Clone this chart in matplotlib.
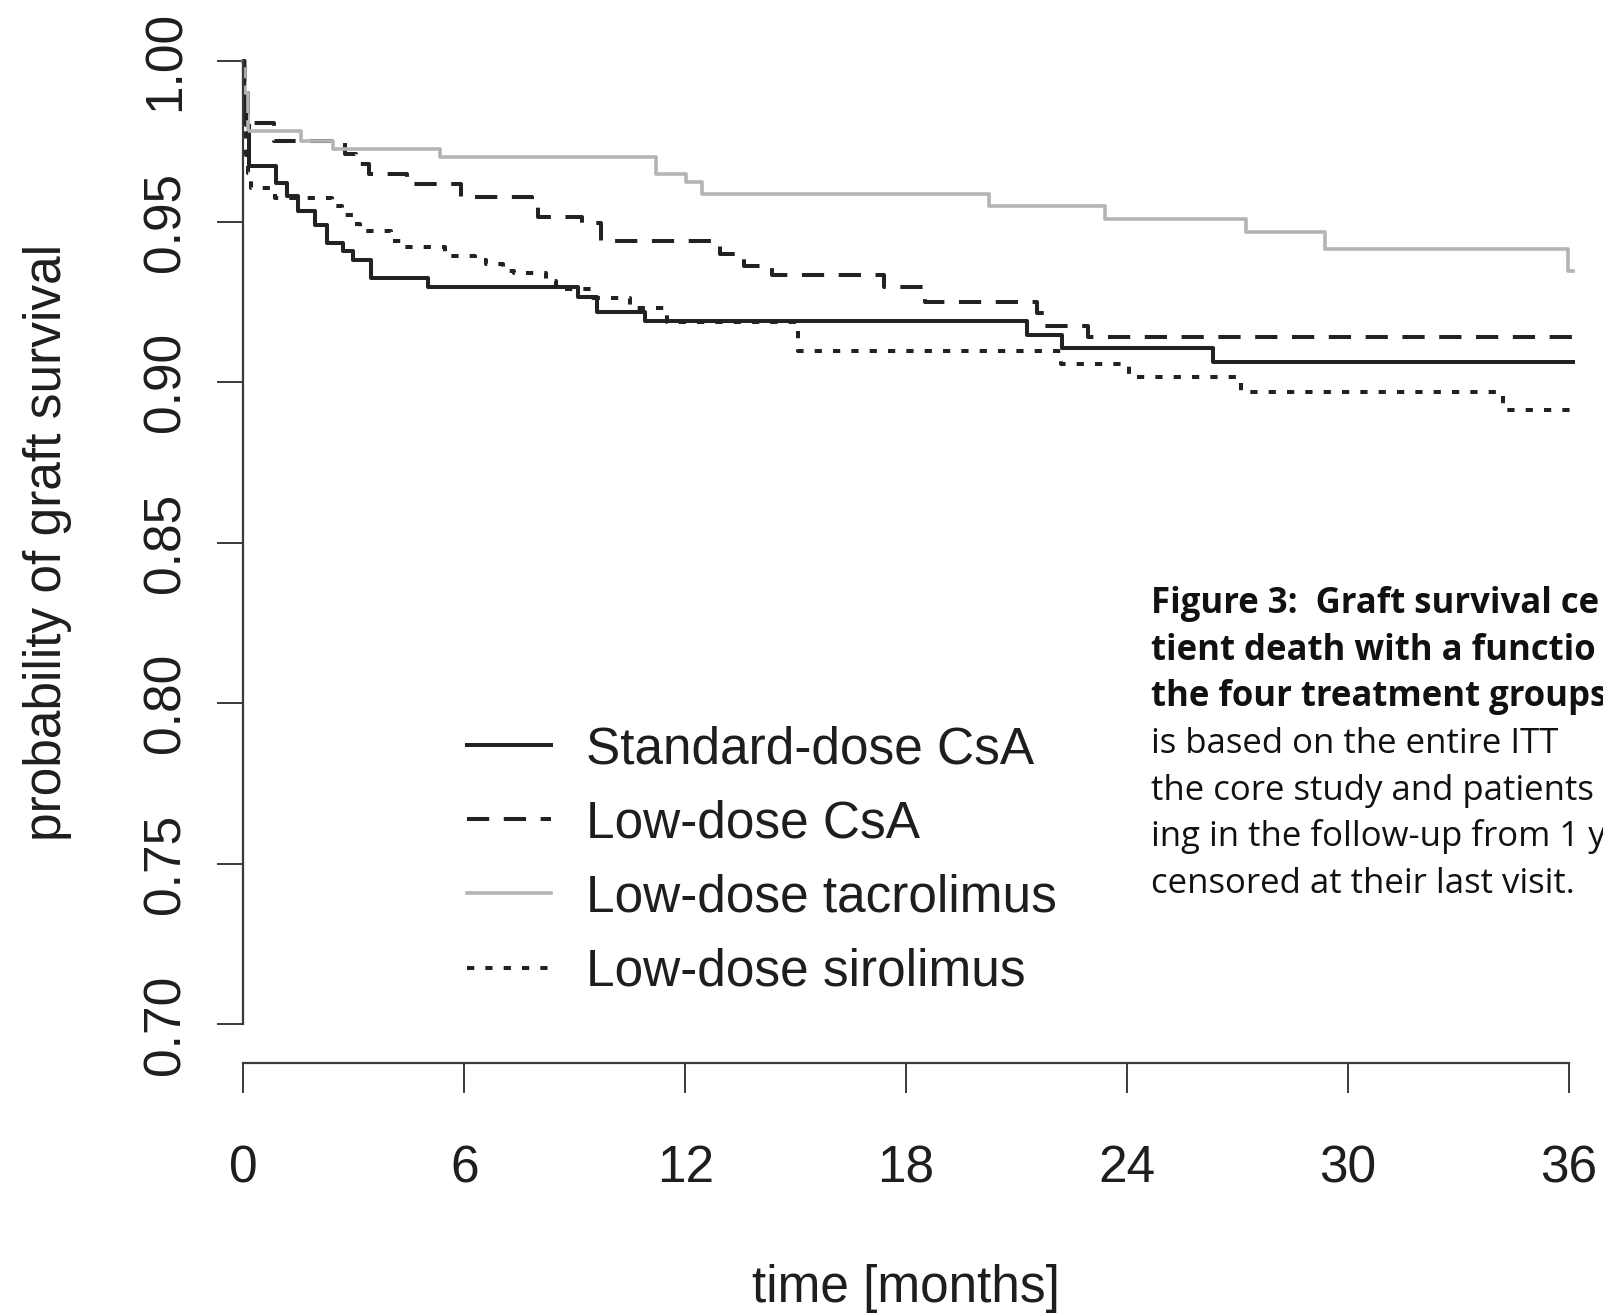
import matplotlib
matplotlib.use("Agg")
import matplotlib.pyplot as plt

plt.rcParams['font.family'] = ['Liberation Sans', 'DejaVu Sans']
plt.rcParams['lines.scale_dashes'] = False

# Kaplan-Meier step points (time in months, survival)
std_t = [0, 0.03, 0.08, 0.15, 0.88, 1.2, 1.49, 1.95, 2.26, 2.7, 2.99, 3.46, 5.02,
         9.1, 9.6, 10.91, 21.27, 22.22, 26.34, 36.1]
std_s = [1.0, 0.99, 0.98, 0.9674, 0.962, 0.958, 0.9534, 0.949, 0.9434, 0.9407, 0.9381,
         0.9324, 0.9295, 0.9264, 0.9217, 0.9192, 0.9146, 0.9105, 0.9062, 0.9062]

lcsa_t = [0, 0.04, 0.13, 0.84, 2.76, 3.05, 3.4, 4.44, 5.9, 7.85, 8.0, 9.2, 9.7,
          12.94, 13.6, 14.35, 17.4, 18.5, 21.55, 21.75, 22.94, 36.1]
lcsa_s = [1.0, 0.99, 0.9806, 0.9752, 0.971, 0.968, 0.9649, 0.9617, 0.9576, 0.955,
          0.9513, 0.9495, 0.9441, 0.940, 0.9363, 0.9335, 0.9295, 0.9249, 0.9215,
          0.9176, 0.914, 0.914]

tac_t = [0, 0.05, 0.12, 1.56, 2.44, 5.34, 11.22, 12.02, 12.45, 20.25, 23.4, 27.24,
         29.37, 35.98, 36.1]
tac_s = [1.0, 0.99, 0.9783, 0.9752, 0.9726, 0.970, 0.9649, 0.9622, 0.9587, 0.955,
         0.9508, 0.9467, 0.9415, 0.9347, 0.9347]

sir_t = [0, 0.03, 0.08, 0.12, 0.2, 0.85, 2.4, 2.68, 2.97, 3.18, 4.0, 4.28, 5.48,
         6.3, 6.6, 7.05, 7.35, 8.22, 8.5, 9.5, 10.5, 11.5, 15.05, 22.2, 24.05, 27.1,
         34.2, 36.1]
sir_s = [1.0, 0.985, 0.9706, 0.965, 0.9605, 0.9573, 0.955, 0.9522, 0.9493, 0.9472,
         0.9441, 0.9422, 0.9394, 0.9379, 0.9368, 0.9347, 0.9339, 0.9316, 0.929,
         0.9262, 0.9231, 0.9186, 0.9098, 0.9057, 0.9015, 0.897, 0.8913, 0.8913]

labels = ['Standard-dose CsA', 'Low-dose CsA', 'Low-dose tacrolimus', 'Low-dose sirolimus']
x_ticks = [0, 6, 12, 18, 24, 30, 36]
y_ticks = [0.70, 0.75, 0.80, 0.85, 0.90, 0.95, 1.00]

caption_bold = ['Figure 3:  Graft survival ce',
                'tient death with a functio',
                'the four treatment groups']
caption_plain = ['is based on the entire ITT',
                 'the core study and patients',
                 'ing in the follow-up from 1 y',
                 'censored at their last visit.']

W, H = 1603, 1315
fig = plt.figure(figsize=(W / 100, H / 100), dpi=100)
ax = fig.add_axes([243.3 / W, (H - 1063) / H, (1569 - 243.3) / W, (1063 - 22.5) / H])

dark = '#222222'
ax.plot(std_t, std_s, drawstyle='steps-post', color=dark, lw=2.9, clip_on=False)
ax.plot(lcsa_t, lcsa_s, drawstyle='steps-post', color=dark, lw=2.9,
        linestyle=(0, (16, 10.5)), clip_on=False)
ax.plot(tac_t, tac_s, drawstyle='steps-post', color='#b4b4b4', lw=2.6, clip_on=False)
ax.plot(sir_t, sir_s, drawstyle='steps-post', color=dark, lw=2.9,
        linestyle=(0, (5.2, 8)), clip_on=False)

ax.set_xlim(0, 36)
ax.set_ylim(0.688, 1.012)
for s in ['top', 'right']:
    ax.spines[s].set_visible(False)
ax.spines['left'].set_bounds(0.70, 1.00)
ax.spines['bottom'].set_bounds(0, 36)
for s in ['left', 'bottom']:
    ax.spines[s].set_color('#3a3a3a')
    ax.spines[s].set_linewidth(1.6)

ax.set_xticks(x_ticks)
ax.set_xticklabels([str(v) for v in x_ticks])
ax.set_yticks(y_ticks)
ax.set_yticklabels(['%.2f' % v for v in y_ticks], rotation=90, va='center')
ax.tick_params(axis='y', direction='out', length=18.7, width=1.4, color='#3a3a3a',
               labelsize=37, pad=19, labelcolor='#1e1e1e')
ax.tick_params(axis='x', direction='out', length=21.6, width=1.4, color='#3a3a3a',
               labelsize=37, pad=37, labelcolor='#1e1e1e')

ax.set_xlabel('time [months]', fontsize=37, labelpad=51, color='#1e1e1e')
ax.set_ylabel('probability of graft survival', fontsize=37, labelpad=50, color='#1e1e1e')

leg = ax.legend(labels, loc='upper left', bbox_to_anchor=(467 / W, (H - 725) / H),
                bbox_transform=fig.transFigure, frameon=False, fontsize=37,
                handlelength=1.63, handletextpad=0.68, labelspacing=0.49,
                borderpad=0, borderaxespad=0)
for t in leg.get_texts():
    t.set_color('#1e1e1e')

for i, line in enumerate(caption_bold + caption_plain):
    bold = i < len(caption_bold)
    fig.text(1151 / W, (H - (613 + i * 46.7)) / H, line, fontsize=25,
             fontweight='bold' if bold else 'normal',
             family=['Open Sans', 'DejaVu Sans'], ha='left', va='baseline',
             color='#111111')

fig.savefig('out.png', dpi=100)
